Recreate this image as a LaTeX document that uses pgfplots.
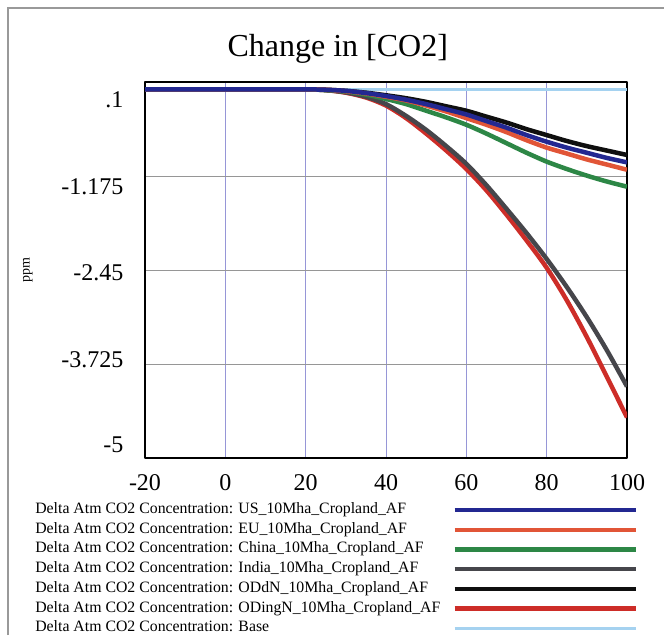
\documentclass[border=0pt]{standalone}
\usepackage{fontspec}
\setmainfont{Liberation Serif}
\usepackage{pgfplots}
\pgfplotsset{compat=1.18}

\definecolor{gridblue}{RGB}{150,150,215}
\definecolor{gridgray}{RGB}{150,150,150}
\definecolor{usblue}{RGB}{35,40,145}
\definecolor{eured}{RGB}{225,85,55}
\definecolor{chinagreen}{RGB}{45,135,70}
\definecolor{indiagray}{RGB}{70,70,75}
\definecolor{oddnblack}{RGB}{15,15,15}
\definecolor{odingnred}{RGB}{205,45,40}
\definecolor{baseblue}{RGB}{165,210,240}

\begin{document}
\begin{tikzpicture}
\path[use as bounding box] (0,0) rectangle (664pt,635pt);
% outer frame
\draw[gray!80, line width=1.2pt] (8pt,0pt) -- (8pt,627pt) -- (664pt,627pt);

\begin{axis}[
at={(145pt,177pt)}, anchor=south west,
scale only axis, width=482pt, height=376pt,
xmin=-20, xmax=100, ymin=-5, ymax=0.1,
xtick={-20,0,20,40,60,80,100},
xticklabels={-20,0,20,40,60,80,100},
ytick={0.1,-1.175,-2.45,-3.725,-5},
yticklabels={},
extra y ticks={-0.144,-1.324,-2.49,-3.67,-4.82},
extra y tick labels={.1,-1.175,-2.45,-3.725,-5},
extra y tick style={grid=none},
major tick length=0pt,
grid=major,
x grid style={color=gridblue, line width=1pt},
y grid style={color=gridgray, line width=1pt},
axis line style={line width=2.8pt},
tick label style={font=\fontsize{24}{24}\selectfont},
yticklabel style={xshift=-18pt},
xticklabel style={yshift=-13pt},
title={Change in [CO2]},
title style={at={(axis description cs:0.40,1.072)}, anchor=center, font=\fontsize{32}{32}\selectfont},
ylabel={ppm},
ylabel style={at={(axis description cs:-0.243,0.5)}, anchor=center, font=\fontsize{14}{14}\selectfont},
legend style={at={(axis description cs:-0.228,-0.118)}, anchor=north west, draw=none, fill=none,
  font=\fontsize{15.8}{15.8}\selectfont, inner sep=0pt, row sep=4.7pt,
  nodes={inner sep=0pt, text height=11pt, text depth=4pt}},
legend cell align=left,
legend plot pos=right,
reverse legend,
legend image code/.code={\path (0pt,0pt); \draw[#1] (12pt,0pt) -- (193pt,0pt);},
line join=round
]

% Base
\addplot[baseblue, line width=3pt] coordinates {(-20,0) (100,0)};
% ODingN
\addplot[odingnred, line width=4.5pt, smooth] coordinates {
(-20,0) (0,0) (10,0) (20,0) (25,-0.01) (30,-0.045) (35,-0.11) (40,-0.22) (45,-0.39)
(50,-0.60) (55,-0.83) (60,-1.08) (65,-1.37) (70,-1.70) (75,-2.05) (80,-2.42)
(85,-2.86) (90,-3.36) (95,-3.90) (100,-4.45)};
% ODdN
\addplot[oddnblack, line width=4.5pt, smooth] coordinates {
(-20,0) (0,0) (10,0) (20,0) (25,-0.005) (30,-0.02) (35,-0.045) (40,-0.08) (45,-0.12)
(50,-0.17) (55,-0.23) (60,-0.29) (65,-0.37) (70,-0.45) (75,-0.54) (80,-0.62)
(85,-0.70) (90,-0.77) (95,-0.83) (100,-0.89)};
% India
\addplot[indiagray, line width=4.5pt, smooth] coordinates {
(-20,0) (0,0) (10,0) (20,0) (25,-0.01) (30,-0.04) (35,-0.10) (40,-0.20) (45,-0.36)
(50,-0.55) (55,-0.77) (60,-1.01) (65,-1.30) (70,-1.62) (75,-1.95) (80,-2.30)
(85,-2.68) (90,-3.09) (95,-3.54) (100,-4.03)};
% China
\addplot[chinagreen, line width=4.5pt, smooth] coordinates {
(-20,0) (0,0) (10,0) (20,0) (25,-0.01) (30,-0.03) (35,-0.07) (40,-0.13) (45,-0.20)
(50,-0.29) (55,-0.38) (60,-0.48) (65,-0.60) (70,-0.73) (75,-0.86) (80,-0.98)
(85,-1.08) (90,-1.17) (95,-1.25) (100,-1.32)};
% EU
\addplot[eured, line width=4.5pt, smooth] coordinates {
(-20,0) (0,0) (10,0) (20,0) (25,-0.005) (30,-0.025) (35,-0.055) (40,-0.10) (45,-0.15)
(50,-0.22) (55,-0.30) (60,-0.39) (65,-0.48) (70,-0.58) (75,-0.69) (80,-0.79)
(85,-0.87) (90,-0.95) (95,-1.02) (100,-1.09)};
% US
\addplot[usblue, line width=4.5pt, smooth] coordinates {
(-20,0) (0,0) (10,0) (20,0) (25,-0.005) (30,-0.02) (35,-0.05) (40,-0.09) (45,-0.14)
(50,-0.20) (55,-0.27) (60,-0.34) (65,-0.43) (70,-0.52) (75,-0.62) (80,-0.71)
(85,-0.79) (90,-0.86) (95,-0.93) (100,-0.99)};

\legend{
Delta Atm CO2 Concentration: Base,
Delta Atm CO2 Concentration: ODingN\_10Mha\_Cropland\_AF,
Delta Atm CO2 Concentration: ODdN\_10Mha\_Cropland\_AF,
Delta Atm CO2 Concentration: India\_10Mha\_Cropland\_AF,
Delta Atm CO2 Concentration: China\_10Mha\_Cropland\_AF,
Delta Atm CO2 Concentration: EU\_10Mha\_Cropland\_AF,
Delta Atm CO2 Concentration: US\_10Mha\_Cropland\_AF}
\end{axis}
\end{tikzpicture}
\end{document}
